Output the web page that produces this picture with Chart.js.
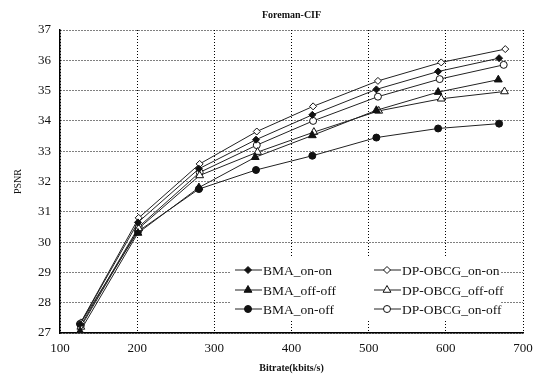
<!DOCTYPE html>
<html>
<head>
<meta charset="utf-8">
<script src="https://cdn.jsdelivr.net/npm/chart.js@4/dist/chart.umd.min.js"></script>
<style>
  html, body { margin: 0; padding: 0; background: #fff; }
  #wrap { width: 551px; height: 374px; position: relative; }
</style>
</head>
<body>
<div id="wrap"><canvas id="psnrChart"></canvas></div>
<script>
const chartTitle = 'Foreman-CIF';
const xTitle = 'Bitrate(kbits/s)';
const yTitle = 'PSNR';

const seriesNames = ['BMA_on-on', 'DP-OBCG_on-on', 'BMA_off-off', 'DP-OBCG_off-off', 'BMA_on-off', 'DP-OBCG_on-off'];

const bmaOnOnX = [126, 201, 280, 354, 427, 510, 590, 669];
const bmaOnOnY = [27.3, 30.65, 32.42, 33.38, 34.2, 35.04, 35.63, 36.07];
const dpOnOnX = [127, 202, 281, 355, 428, 512, 594, 677];
const dpOnOnY = [27.35, 30.8, 32.58, 33.65, 34.48, 35.32, 35.93, 36.37];
const bmaOffOffX = [126, 201, 280, 353, 427, 510, 590, 668];
const bmaOffOffY = [27.05, 30.3, 31.8, 32.8, 33.52, 34.35, 34.95, 35.36];
const dpOffOffX = [127, 202, 281, 356, 429, 513, 594, 676];
const dpOffOffY = [27.2, 30.45, 32.2, 32.97, 33.63, 34.33, 34.73, 34.97];
const bmaOnOffX = [126, 201, 280, 354, 427, 510, 590, 669];
const bmaOnOffY = [27.3, 30.35, 31.75, 32.38, 32.85, 33.45, 33.75, 33.91];
const dpOnOffX = [127, 202, 281, 355, 428, 512, 592, 675];
const dpOnOffY = [27.25, 30.5, 32.3, 33.2, 34.0, 34.8, 35.38, 35.85];

const xTicks = [100, 200, 300, 400, 500, 600, 700];
const yTicks = [27, 28, 29, 30, 31, 32, 33, 34, 35, 36, 37];

const serif = '"Liberation Serif", "DejaVu Serif", serif';

function pairs(xs, ys) {
    return xs.map((x, i) => ({ x: x, y: ys[i] }));
}

function series(label, xs, ys, style, filled, radius) {
    return {
        label: label,
        data: pairs(xs, ys),
        borderColor: '#222',
        borderWidth: 1,
        pointStyle: style,
        pointRadius: radius,
        pointBackgroundColor: filled ? '#111' : '#fff',
        pointBorderColor: '#111',
        pointBorderWidth: 1,
        showLine: true,
        tension: 0
    };
}

const datasets = [
    series(seriesNames[0], bmaOnOnX, bmaOnOnY, 'rectRot', true, 3.5),
    series(seriesNames[1], dpOnOnX, dpOnOnY, 'rectRot', false, 3.5),
    series(seriesNames[2], bmaOffOffX, bmaOffOffY, 'triangle', true, 4.5),
    series(seriesNames[3], dpOffOffX, dpOffOffY, 'triangle', false, 4.5),
    series(seriesNames[4], bmaOnOffX, bmaOnOffY, 'circle', true, 3.5),
    series(seriesNames[5], dpOnOffX, dpOnOffY, 'circle', false, 3.5)
];

// legend sits inside the plot, two columns by three rows
const boxLegend = {
    id: 'boxLegend',
    afterDatasetsDraw(chart) {
        const ctx = chart.ctx;
        const left = 230, right = 501, top = 257, bottom = 321;
        ctx.save();
        ctx.fillStyle = '#fff';
        ctx.fillRect(left, top, right - left, bottom - top);
        const colX = [235, 374];
        const rowY = [270, 290, 309];
        ctx.font = '13.5px ' + serif;
        ctx.textBaseline = 'middle';
        chart.data.datasets.forEach((ds, i) => {
            const x0 = colX[i % 2];
            const y = rowY[Math.floor(i / 2)];
            ctx.strokeStyle = ds.borderColor;
            ctx.lineWidth = 1;
            ctx.beginPath();
            ctx.moveTo(x0, y);
            ctx.lineTo(x0 + 27, y);
            ctx.stroke();
            ctx.fillStyle = ds.pointBackgroundColor;
            ctx.strokeStyle = ds.pointBorderColor;
            Chart.helpers.drawPoint(ctx, {
                pointStyle: ds.pointStyle,
                radius: ds.pointRadius,
                rotation: 0,
                borderWidth: 1
            }, x0 + 13, y);
            ctx.fillStyle = '#111';
            ctx.fillText(ds.label, x0 + 28, y + 1);
        });
        ctx.restore();
    }
};

const topTitle = {
    id: 'topTitle',
    afterDraw(chart) {
        const ctx = chart.ctx;
        const a = chart.chartArea;
        ctx.save();
        ctx.font = 'bold 10px ' + serif;
        ctx.fillStyle = '#111';
        ctx.textAlign = 'center';
        ctx.textBaseline = 'middle';
        ctx.fillText(chartTitle, (a.left + a.right) / 2, 15);
        ctx.restore();
    }
};

const ctx = document.getElementById('psnrChart').getContext('2d');
new Chart(ctx, {
    type: 'line',
    data: { datasets: datasets },
    plugins: [boxLegend, topTitle],
    options: {
        responsive: true,
        maintainAspectRatio: false,
        animation: false,
        layout: { padding: { top: 30, right: 28, left: 0, bottom: 0 } },
        plugins: {
            legend: { display: false },
            title: { display: false },
            tooltip: { enabled: false }
        },
        scales: {
            x: {
                type: 'linear',
                min: 100,
                max: 700,
                afterBuildTicks: (scale) => { scale.ticks = xTicks.map((v) => ({ value: v })); },
                afterFit: (scale) => { scale.height = 41; },
                border: { display: true, color: '#000', width: 1.5, dash: [1, 2] },
                grid: { color: '#000', lineWidth: 1, drawTicks: false },
                ticks: { color: '#111', font: { family: serif, size: 13 }, padding: 8, maxRotation: 0 },
                title: { display: true, text: xTitle, color: '#111', font: { family: serif, size: 10, weight: 'bold' }, padding: { top: 1, bottom: 0 } }
            },
            y: {
                type: 'linear',
                min: 27,
                max: 37,
                afterBuildTicks: (scale) => { scale.ticks = yTicks.map((v) => ({ value: v })); },
                afterFit: (scale) => { scale.width = 60; },
                border: { display: true, color: '#000', width: 1.5, dash: [1, 2] },
                grid: { color: '#000', lineWidth: 1, drawTicks: false },
                ticks: { color: '#111', font: { family: serif, size: 13 }, padding: 9 },
                title: { display: true, text: yTitle, color: '#111', font: { family: serif, size: 10 }, padding: { top: 12, bottom: 0 } }
            }
        }
    }
});
</script>
</body>
</html>
